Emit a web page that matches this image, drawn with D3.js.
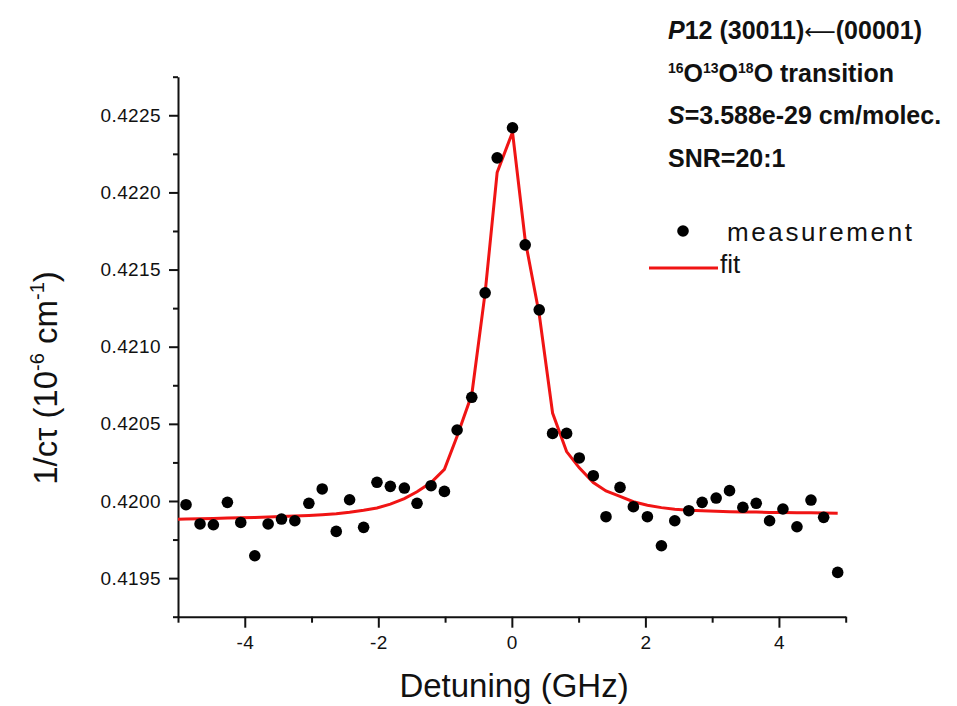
<!DOCTYPE html>
<html>
<head>
<meta charset="utf-8">
<script src="https://cdn.jsdelivr.net/npm/d3@7"></script>
<style>
  body { margin: 0; background: #fff; }
  text { font-family: "Liberation Sans", Arial, sans-serif; fill: #111; }
</style>
</head>
<body>
<svg id="chart" width="957" height="706"></svg>
<script>
var detuning = [-4.88, -4.67, -4.47, -4.26, -4.06, -3.85, -3.65, -3.45, -3.25, -3.04,
  -2.84, -2.63, -2.43, -2.22, -2.02, -1.82, -1.61, -1.42, -1.21, -1.01,
  -0.82, -0.60, -0.40, -0.22, 0.01, 0.20, 0.41, 0.61, 0.82, 1.01,
  1.22, 1.41, 1.62, 1.82, 2.03, 2.24, 2.44, 2.65, 2.85, 3.06,
  3.26, 3.46, 3.66, 3.86, 4.06, 4.27, 4.48, 4.67, 4.88]
var measured = [0.419976, 0.419851, 0.419846, 0.419991, 0.419861, 0.419645, 0.419851, 0.419883, 0.419872, 0.419985,
  0.420078, 0.419803, 0.420008, 0.419829, 0.420121, 0.420095, 0.420084, 0.419985, 0.420099, 0.420062,
  0.420460, 0.420672, 0.421349, 0.422224, 0.422419, 0.421660, 0.421239, 0.420438, 0.420438, 0.420279,
  0.420164, 0.419898, 0.420088, 0.419963, 0.419898, 0.419710, 0.419872, 0.419937, 0.419991, 0.420019,
  0.420067, 0.419959, 0.419985, 0.419872, 0.419948, 0.419833, 0.420006, 0.419894, 0.419537]

// fit curve, read at the same detunings (plus the axis start)
var fitX = [-5.00, -4.88, -4.67, -4.47, -4.26, -4.06, -3.85, -3.65, -3.45, -3.25, -3.04,
  -2.84, -2.63, -2.43, -2.22, -2.02, -1.82, -1.61, -1.42, -1.21, -1.01,
  -0.82, -0.60, -0.40, -0.22, 0.01, 0.20, 0.41, 0.61, 0.82, 1.01,
  1.22, 1.41, 1.62, 1.82, 2.03, 2.24, 2.44, 2.65, 2.85, 3.06,
  3.26, 3.46, 3.66, 3.86, 4.06, 4.27, 4.48, 4.67, 4.88]
var fitY = [0.419882, 0.419883, 0.419885, 0.419887, 0.419889, 0.419891, 0.419893, 0.419896, 0.419899, 0.419902, 0.419906,
  0.419911, 0.419918, 0.419927, 0.419940, 0.419955, 0.419980, 0.420015, 0.420060, 0.420120, 0.420205,
  0.420420, 0.420690, 0.421350, 0.422130, 0.422390, 0.421690, 0.421210, 0.420570, 0.420320, 0.420215,
  0.420120, 0.420065, 0.420030, 0.419995, 0.419972, 0.419957, 0.419947, 0.419940, 0.419936, 0.419933,
  0.419931, 0.419929, 0.419928, 0.419926, 0.419925, 0.419924, 0.419923, 0.419922, 0.419921]

var xMajor = [-4, -2, 0, 2, 4]
var xMinor = [-5, -3, -1, 1, 3, 5]
var yMajor = [0.4195, 0.4200, 0.4205, 0.4210, 0.4215, 0.4220, 0.4225]
var yMinor = [0.41925, 0.41975, 0.42025, 0.42075, 0.42125, 0.42175, 0.42225, 0.42275]

var svg = d3.select("#chart")

var x = d3.scaleLinear().domain([-5, 5]).range([178, 845.7])
var y = d3.scaleLinear().domain([0.41925, 0.42275]).range([616.7, 76.7])

// axes
var gx = svg.append("g").attr("transform", "translate(0," + y.range()[0] + ")")
gx.call(d3.axisBottom(x).tickValues(xMinor).tickSize(6).tickSizeOuter(0).tickFormat(""))
gx.append("g").call(d3.axisBottom(x).tickValues(xMajor).tickSize(11).tickPadding(8).tickSizeOuter(0)
    .tickFormat(function(d) { return String(d) }))
  .select(".domain").remove()

var gy = svg.append("g").attr("transform", "translate(" + x.range()[0] + ",0)")
gy.call(d3.axisLeft(y).tickValues(yMinor).tickSize(5).tickSizeOuter(0).tickFormat(""))
gy.append("g").call(d3.axisLeft(y).tickValues(yMajor).tickSize(9).tickPadding(8).tickSizeOuter(0).tickFormat(d3.format(".4f")))
  .select(".domain").remove()

svg.selectAll(".domain").attr("stroke", "#111").attr("stroke-width", 2)
svg.selectAll(".tick line").attr("stroke", "#111").attr("stroke-width", 2)
svg.selectAll(".tick text").style("font-size", "19px").style("font-family", "Liberation Sans, Arial, sans-serif")
  .style("letter-spacing", "0.4px").attr("fill", "#222")

// fit line
var line = d3.line().x(function(d, i) { return x(fitX[i]) }).y(function(d) { return y(d) })
svg.append("path")
  .datum(fitY)
  .attr("d", line)
  .attr("fill", "none")
  .attr("stroke", "#f01414")
  .attr("stroke-width", 3)

// measurement points
svg.append("g").selectAll("circle")
  .data(measured)
  .join("circle")
  .attr("cx", function(d, i) { return x(detuning[i]) })
  .attr("cy", function(d) { return y(d) })
  .attr("r", 5.8)
  .attr("fill", "#000")

// axis titles
svg.append("text")
  .attr("x", 514).attr("y", 697)
  .attr("text-anchor", "middle")
  .style("font-size", "33px")
  .text("Detuning (GHz)")

var yt = svg.append("text")
  .attr("transform", "translate(57,378) rotate(-90)")
  .attr("text-anchor", "middle")
  .style("font-size", "33px")
yt.append("tspan").text("1/c\u03c4 (10")
yt.append("tspan").attr("dy", -13).style("font-size", "20px").text("-6")
yt.append("tspan").attr("dy", 13).text(" cm")
yt.append("tspan").attr("dy", -13).style("font-size", "20px").text("-1")
yt.append("tspan").attr("dy", 13).text(")")

// annotation
var note = svg.append("g").style("font-weight", "bold").style("font-size", "25px")
var l1 = note.append("text").attr("x", 668).attr("y", 39)
l1.append("tspan").style("font-style", "italic").text("P")
l1.append("tspan").text("12 (30011)")
l1.append("tspan").style("font-weight", "normal").style("font-family", "DejaVu Sans").style("font-size", "22px").text("\u27f5")
l1.append("tspan").text("(00001)")

var l2 = note.append("text").attr("x", 668).attr("y", 82)
;[["16", "O"], ["13", "O"], ["18", "O transition"]].forEach(function(p) {
  l2.append("tspan").attr("dy", -9).style("font-size", "14px").text(p[0])
  l2.append("tspan").attr("dy", 9).text(p[1])
})

var l3 = note.append("text").attr("x", 668).attr("y", 124)
l3.append("tspan").style("font-style", "italic").text("S")
l3.append("tspan").text("=3.588e-29 cm/molec.")

note.append("text").attr("x", 668).attr("y", 167).text("SNR=20:1")

// legend
var legend = svg.append("g")
legend.append("circle").attr("cx", 683).attr("cy", 231).attr("r", 5.8).attr("fill", "#000")
legend.append("text").attr("x", 727).attr("y", 241)
  .style("font-size", "26px").style("letter-spacing", "2.6px").attr("fill", "#222")
  .text("measurement")
legend.append("line").attr("x1", 649).attr("x2", 718).attr("y1", 268).attr("y2", 268)
  .attr("stroke", "#f01414").attr("stroke-width", 3)
legend.append("text").attr("x", 720).attr("y", 273)
  .style("font-size", "26px").attr("fill", "#222")
  .text("fit")
</script>
</body>
</html>
